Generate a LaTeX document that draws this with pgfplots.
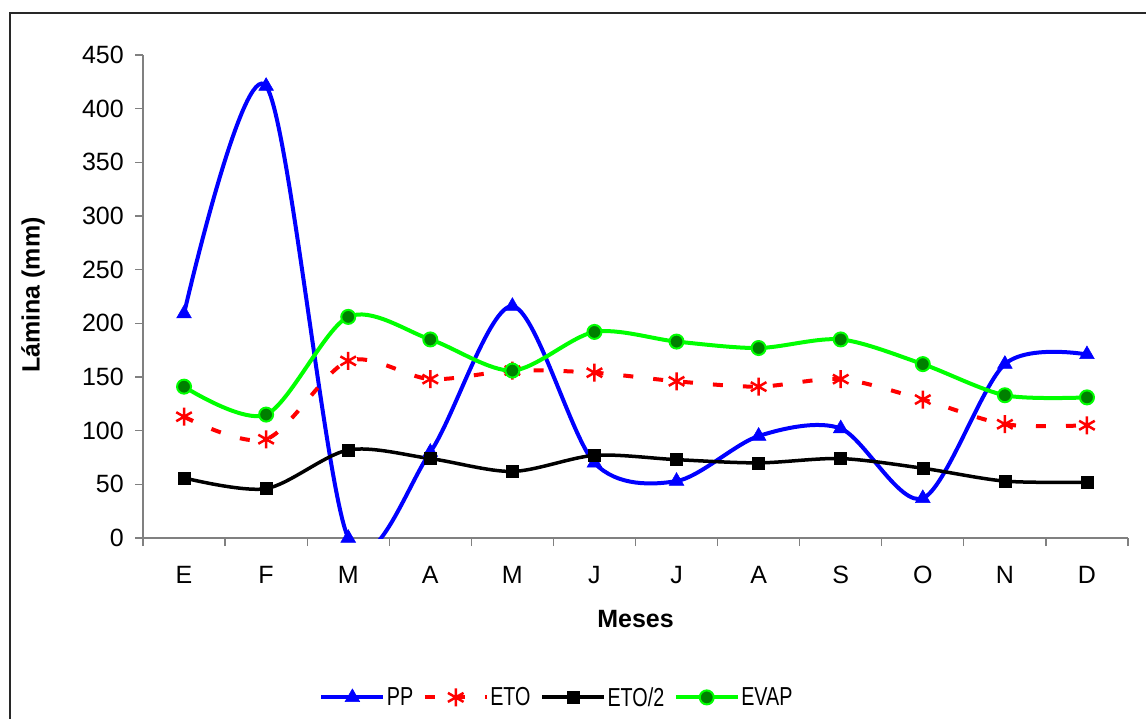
\documentclass[border=0pt]{standalone}
\usepackage{pgfplots}
\pgfplotsset{compat=1.18}
\usepackage{fontspec}
\setmainfont{Liberation Sans}
\usepackage{graphicx}
\definecolor{ppblue}{RGB}{0,0,255}
\definecolor{etored}{RGB}{255,0,0}
\definecolor{evlime}{RGB}{0,255,0}
\definecolor{evdark}{RGB}{0,128,0}
\definecolor{axgray}{RGB}{128,128,128}
\definecolor{framecol}{RGB}{40,40,40}
\newcommand{\legtxt}[1]{\scalebox{0.76}[1]{#1}}
\begin{document}
\begin{tikzpicture}[x=1pt,y=1pt]
\useasboundingbox (0,0) rectangle (1146,-719);
\draw[line width=2pt, framecol] (10,-725) -- (10,-13) -- (1150,-13);
\begin{axis}[
  at={(143pt,-538pt)}, anchor=south west,
  scale only axis, width=985pt, height=483pt,
  xmin=-0.5, xmax=11.5, ymin=0, ymax=450,
  axis x line*=bottom, axis y line*=left,
  axis line style={-, draw=axgray, line width=1.3pt},
  ytick={0,50,...,450},
  xtick={0,...,11},
  xticklabels={E,F,M,A,M,J,J,A,S,O,N,D},
  minor xtick={-0.5,0.5,...,11.5},
  major x tick style={draw=none},
  minor x tick style={draw=axgray, line width=1.3pt},
  major y tick style={draw=axgray, line width=1.3pt},
  tick align=outside,
  major tick length=8pt, minor tick length=8pt,
  /pgf/number format/assume math mode=true,
  ticklabel style={font=\fontsize{25}{29}\selectfont},
  yticklabel style={inner sep=0pt, xshift=-11pt},
  xticklabel style={inner sep=0pt, yshift=-20pt},
  ylabel={Lámina (mm)},
  xlabel={Meses},
  every axis y label/.style={at={(axis description cs:-0.1117,0.503)}, rotate=90, anchor=center, font=\fontsize{25}{30}\selectfont\bfseries},
  every axis x label/.style={at={(axis description cs:0.5,-0.168)}, anchor=center, font=\fontsize{25}{30}\selectfont\bfseries},
  legend columns=-1,
  legend style={draw=none, fill=none, at={(axis description cs:0.42,-0.33)}, anchor=center,
    font=\fontsize{26}{30}\selectfont,
    nodes={inner sep=1.5pt},
    /tikz/every even column/.append style={column sep=8pt}},
  legend image code/.code={\draw[line width=4pt, mark repeat=2,mark phase=2] plot coordinates {(0pt,0pt) (31pt,0pt) (62pt,0pt)};},
]
\addplot[smooth, ppblue, line width=4pt, mark=triangle*, mark size=8.5pt, mark options={solid, fill=ppblue, draw=ppblue, line width=0.5pt}]
  coordinates {(0,209) (1,421) (2,0) (3,80) (4,216) (5,70) (6,53) (7,95) (8,102) (9,37) (10,162) (11,171)};
\addlegendentry{\legtxt{PP}}
\addplot[smooth, etored, line width=4pt, dash pattern=on 10pt off 20pt, mark=asterisk, mark size=9pt, mark options={solid, draw=etored, line width=2.5pt}]
  coordinates {(0,113) (1,92) (2,165) (3,148) (4,156) (5,154) (6,146) (7,141) (8,148) (9,129) (10,106) (11,105)};
\addlegendentry{\legtxt{ETO}}
\addplot[smooth, black, line width=3.5pt, mark=square*, mark size=6pt, mark options={solid, fill=black, draw=black, line width=0.5pt}]
  coordinates {(0,56) (1,46) (2,82) (3,74) (4,62) (5,77) (6,73) (7,70) (8,74) (9,65) (10,53) (11,52)};
\addlegendentry{\legtxt{ETO/2}}
\addplot[smooth, evlime, line width=4pt, mark=*, mark size=7pt, mark options={solid, fill=evdark, draw=evlime, line width=2pt}]
  coordinates {(0,141) (1,115) (2,206) (3,185) (4,156) (5,192) (6,183) (7,177) (8,185) (9,162) (10,133) (11,131)};
\addlegendentry{\legtxt{EVAP}}
\end{axis}
\end{tikzpicture}
\end{document}
